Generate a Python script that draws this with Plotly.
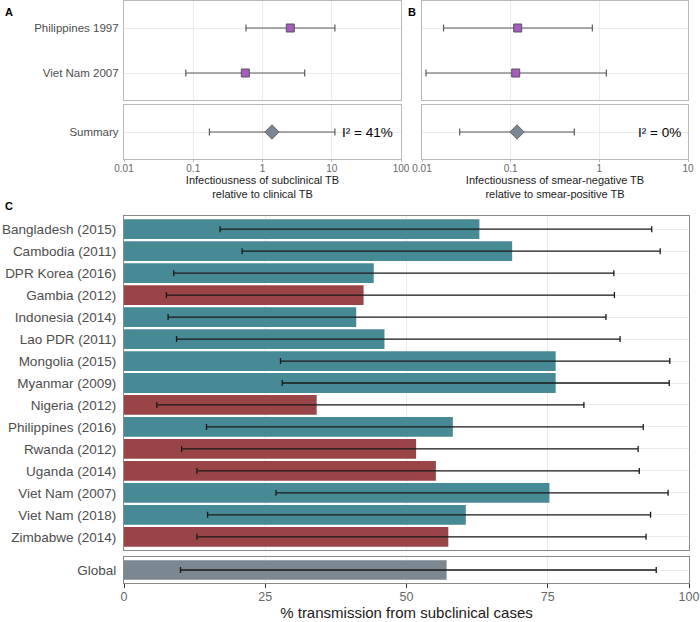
import plotly.graph_objects as go

W, H = 700, 622

# ---------------- Data ----------------
# Panel A: infectiousness of subclinical TB relative to clinical TB
a_studies = ["Philippines 1997", "Viet Nam 2007"]
a_est = [2.52, 0.565]
a_lo = [0.578, 0.078]
a_hi = [11.1, 4.07]
a_sum_est, a_sum_lo, a_sum_hi = 1.37, 0.171, 11.1
a_i2 = "I² = 41%"

# Panel B: infectiousness of smear-negative TB relative to smear-positive TB
b_est = [0.12, 0.114]
b_lo = [0.0175, 0.0111]
b_hi = [0.834, 1.2]
b_sum_est, b_sum_lo, b_sum_hi = 0.118, 0.0266, 0.522
b_i2 = "I² = 0%"

log_ticks_a = [0.01, 0.1, 1, 10, 100]
log_ticks_b = [0.01, 0.1, 1, 10]

# Panel C: % transmission from subclinical cases
countries = ["Bangladesh (2015)", "Cambodia (2011)", "DPR Korea (2016)", "Gambia (2012)",
             "Indonesia (2014)", "Lao PDR (2011)", "Mongolia (2015)", "Myanmar (2009)",
             "Nigeria (2012)", "Philippines (2016)", "Rwanda (2012)", "Uganda (2014)",
             "Viet Nam (2007)", "Viet Nam (2018)", "Zimbabwe (2014)"]
region = ["Asia", "Asia", "Asia", "Africa", "Asia", "Asia", "Asia", "Asia",
          "Africa", "Asia", "Africa", "Africa", "Asia", "Asia", "Africa"]
pct = [62.9, 68.7, 44.2, 42.4, 41.1, 46.1, 76.4, 76.4, 34.1, 58.2, 51.7, 55.2, 75.3, 60.5, 57.4]
pct_lo = [17.0, 20.9, 8.8, 7.5, 7.8, 9.3, 27.7, 28.0, 5.8, 14.6, 10.2, 12.9, 26.9, 14.8, 12.9]
pct_hi = [93.4, 94.9, 86.7, 86.8, 85.3, 87.8, 96.6, 96.5, 81.4, 91.9, 91.0, 91.2, 96.3, 93.2, 92.4]
global_label = "Global"
global_pct, global_lo, global_hi = 57.1, 10.0, 94.2
c_ticks = [0, 25, 50, 75, 100]

# ---------------- Styles ----------------
FONT = "Liberation Sans, Arial, sans-serif"
PURPLE = "#A65CC0"
DIAMOND = "#7A8694"
TEAL = "#468A96"
RED = "#994447"
GREY_BAR = "#7B8791"
GRID = "#EBEBEB"
BORDER_AB = "#B8B8B8"
BORDER_C = "#8A8A8A"
region_color = {"Asia": TEAL, "Africa": RED}


def xdom(x0, x1):
    return [x0 / W, x1 / W]


def ydom(y0, y1):
    return [1 - y1 / H, 1 - y0 / H]


fig = go.Figure()

# Panel A top
fig.add_trace(go.Scatter(
    x=a_est, y=a_studies, mode="markers", xaxis="x", yaxis="y",
    marker=dict(symbol="square", size=8, color=PURPLE, line=dict(color="#555555", width=1)),
    error_x=dict(type="data", symmetric=False,
                 array=[h - e for h, e in zip(a_hi, a_est)],
                 arrayminus=[e - l for e, l in zip(a_est, a_lo)],
                 color="#5A5A5A", thickness=1.2, width=3.5),
    showlegend=False))
# Panel A bottom
fig.add_trace(go.Scatter(
    x=[a_sum_est], y=["Summary"], mode="markers", xaxis="x2", yaxis="y2",
    marker=dict(symbol="diamond", size=11, color=DIAMOND, line=dict(color="#666666", width=1)),
    error_x=dict(type="data", symmetric=False, array=[a_sum_hi - a_sum_est],
                 arrayminus=[a_sum_est - a_sum_lo], color="#5A5A5A", thickness=1.2, width=3.5),
    showlegend=False))
# Panel B top
fig.add_trace(go.Scatter(
    x=b_est, y=a_studies, mode="markers", xaxis="x3", yaxis="y3",
    marker=dict(symbol="square", size=8, color=PURPLE, line=dict(color="#555555", width=1)),
    error_x=dict(type="data", symmetric=False,
                 array=[h - e for h, e in zip(b_hi, b_est)],
                 arrayminus=[e - l for e, l in zip(b_est, b_lo)],
                 color="#5A5A5A", thickness=1.2, width=3.5),
    showlegend=False))
# Panel B bottom
fig.add_trace(go.Scatter(
    x=[b_sum_est], y=["Summary"], mode="markers", xaxis="x4", yaxis="y4",
    marker=dict(symbol="diamond", size=11, color=DIAMOND, line=dict(color="#666666", width=1)),
    error_x=dict(type="data", symmetric=False, array=[b_sum_hi - b_sum_est],
                 arrayminus=[b_sum_est - b_sum_lo], color="#5A5A5A", thickness=1.2, width=3.5),
    showlegend=False))
# Panel C main
fig.add_trace(go.Bar(
    x=pct, y=countries, orientation="h", xaxis="x5", yaxis="y5", width=0.9,
    marker=dict(color=[region_color[r] for r in region], line=dict(width=0)),
    error_x=dict(type="data", symmetric=False,
                 array=[h - p for h, p in zip(pct_hi, pct)],
                 arrayminus=[p - l for p, l in zip(pct, pct_lo)],
                 color="#1A1A1A", thickness=1.3, width=3),
    showlegend=False))
# Panel C global
fig.add_trace(go.Bar(
    x=[global_pct], y=[global_label], orientation="h", xaxis="x6", yaxis="y6", width=0.9,
    marker=dict(color=GREY_BAR, line=dict(width=0)),
    error_x=dict(type="data", symmetric=False, array=[global_hi - global_pct],
                 arrayminus=[global_pct - global_lo], color="#1A1A1A", thickness=1.3, width=3),
    showlegend=False))

tickfont_ab = dict(family=FONT, size=10, color="#666666")
ylabfont_ab = dict(family=FONT, size=11.5, color="#4D4D4D")
titlefont_ab = dict(family=FONT, size=11, color="#1A1A1A")


def log_x(dom, rng, ticks, show, title=None, anchor=None):
    d = dict(domain=dom, type="log", range=rng, tickvals=ticks,
             ticktext=[f"{t:g}" for t in ticks], showticklabels=show,
             showgrid=True, gridcolor=GRID, gridwidth=1, zeroline=False,
             showline=True, linecolor=BORDER_AB, linewidth=1.2, mirror=True,
             ticks="outside" if show else "", ticklen=2, tickcolor=BORDER_AB,
             tickfont=tickfont_ab, anchor=anchor, automargin=False,
             ticklabelstandoff=-2)
    if title:
        d["title"] = dict(text=title, font=titlefont_ab, standoff=0)
    return d


def cat_y(dom, cats, rng, show, anchor, border=BORDER_AB, font=ylabfont_ab, standoff=3):
    return dict(domain=dom, type="category", categoryarray=cats, categoryorder="array",
                range=rng, showticklabels=show, showgrid=True, gridcolor=GRID, gridwidth=1,
                showline=True, linecolor=border, linewidth=1.2, mirror=True, ticks="",
                tickfont=font, anchor=anchor, ticklabelstandoff=standoff, automargin=False)


fig.update_layout(
    width=W, height=H, autosize=False,
    margin=dict(l=0, r=0, t=0, b=0),
    paper_bgcolor="white", plot_bgcolor="white",
    font=dict(family=FONT),
    xaxis=log_x(xdom(124, 401), [-2, 2], log_ticks_a, False, anchor="y"),
    yaxis=cat_y(ydom(1, 100), a_studies, [1.6, -0.6], True, "x", standoff=2),
    xaxis2=log_x(xdom(124, 401), [-2, 2], log_ticks_a, True,
                 title="Infectiousness of subclinical TB<br>relative to clinical TB", anchor="y2"),
    yaxis2=cat_y(ydom(105, 159), ["Summary"], [0.6, -0.6], True, "x2", standoff=2),
    xaxis3=log_x(xdom(422, 688), [-2, 1], log_ticks_b, False, anchor="y3"),
    yaxis3=cat_y(ydom(1, 100), a_studies, [1.6, -0.6], False, "x3"),
    xaxis4=log_x(xdom(422, 688), [-2, 1], log_ticks_b, True,
                 title="Infectiousness of smear-negative TB<br>relative to smear-positive TB", anchor="y4"),
    yaxis4=cat_y(ydom(105, 159), ["Summary"], [0.6, -0.6], False, "x4"),
    xaxis5=dict(domain=xdom(124, 689), range=[0, 100], tickvals=c_ticks, showticklabels=False,
                showgrid=True, gridcolor=GRID, gridwidth=1, zeroline=False,
                showline=True, linecolor=BORDER_C, linewidth=1.2, mirror=True, ticks="",
                anchor="y5", automargin=False),
    yaxis5=cat_y(ydom(216, 550), countries, [14.6, -0.6], True, "x5", border=BORDER_C,
                 font=dict(family=FONT, size=13.5, color="#4D4D4D"), standoff=4),
    xaxis6=dict(domain=xdom(124, 689), range=[0, 100], tickvals=c_ticks,
                ticktext=[str(t) for t in c_ticks], showticklabels=True,
                showgrid=True, gridcolor=GRID, gridwidth=1, zeroline=False,
                showline=True, linecolor=BORDER_C, linewidth=1.2, mirror=True,
                ticks="outside", ticklen=4, tickcolor="#333333",
                tickfont=dict(family=FONT, size=12.5, color="#666666"),
                ticklabelstandoff=-2,
                title=dict(text="% transmission from subclinical cases",
                           font=dict(family=FONT, size=15, color="#1A1A1A"), standoff=2),
                anchor="y6", automargin=False),
    yaxis6=cat_y(ydom(557, 583), [global_label], [0.6, -0.6], True, "x6", border=BORDER_C,
                 font=dict(family=FONT, size=13.5, color="#4D4D4D"), standoff=4),
    annotations=[
        dict(text="<b>A</b>", x=3 / W, y=1 - 12 / H, xref="paper", yref="paper",
             xanchor="left", yanchor="middle", showarrow=False,
             font=dict(family=FONT, size=11, color="black")),
        dict(text="<b>B</b>", x=406 / W, y=1 - 12 / H, xref="paper", yref="paper",
             xanchor="left", yanchor="middle", showarrow=False,
             font=dict(family=FONT, size=11, color="black")),
        dict(text="<b>C</b>", x=3 / W, y=1 - 206 / H, xref="paper", yref="paper",
             xanchor="left", yanchor="middle", showarrow=False,
             font=dict(family=FONT, size=11, color="black")),
        dict(text=a_i2, x=0.98, y=0.5, xref="x2 domain", yref="y2 domain",
             xanchor="right", yanchor="middle", showarrow=False,
             font=dict(family=FONT, size=13.5, color="black")),
        dict(text=b_i2, x=0.98, y=0.5, xref="x4 domain", yref="y4 domain",
             xanchor="right", yanchor="middle", showarrow=False,
             font=dict(family=FONT, size=13.5, color="black")),
    ],
)

fig.write_html("out.html")
